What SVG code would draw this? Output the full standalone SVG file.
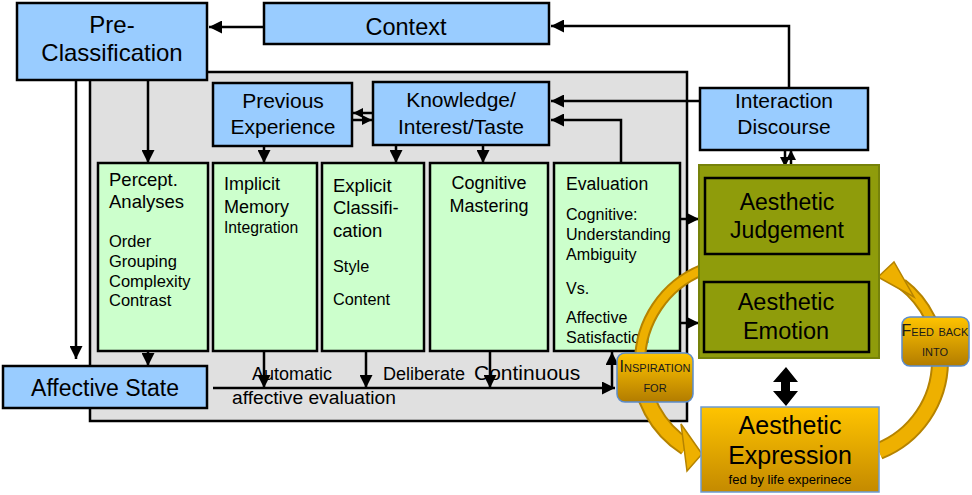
<svg xmlns="http://www.w3.org/2000/svg" width="972" height="495" viewBox="0 0 972 495">
<defs>
<marker id="ah" markerUnits="userSpaceOnUse" markerWidth="13" markerHeight="13" refX="13" refY="6.5" orient="auto"><path d="M0,0 L13,6.5 L0,13 z" fill="#000"/></marker>
<marker id="ahs" markerUnits="userSpaceOnUse" markerWidth="10" markerHeight="10" refX="10" refY="5" orient="auto"><path d="M0,0 L10,5 L0,10 z" fill="#000"/></marker>
<linearGradient id="gold" x1="0" y1="0" x2="0" y2="1"><stop offset="0" stop-color="#ffc400"/><stop offset="1" stop-color="#b27c00"/></linearGradient>
<linearGradient id="gold2" x1="0" y1="0" x2="0" y2="1"><stop offset="0" stop-color="#ffc400"/><stop offset="1" stop-color="#c48a00"/></linearGradient>
</defs>
<style>
.blue{fill:#99ccff;stroke:#000;stroke-width:2.5}
.green{fill:#ccffcc;stroke:#000;stroke-width:2.5}
.t{font-family:"Liberation Sans",Arial,sans-serif;fill:#000}
.c{text-anchor:middle}
.ln{fill:none;stroke:#000;stroke-width:2.5}
.sc{font-family:"Liberation Sans",Arial,sans-serif;font-variant:small-caps;fill:#1a1a1a;text-anchor:middle;font-size:16px}
.rib{fill:none;stroke:#b58300}
.ribi{fill:none;stroke:#eeb000}
</style>
<rect id="panel" x="90" y="72" width="597" height="349" fill="#e0e0e0" stroke="#000" stroke-width="2.5"/>
<g id="connectors">
<line class="ln" x1="264" y1="27" x2="209" y2="27" marker-end="url(#ah)"/>
<polyline class="ln" points="789,88 789,26 551,26" marker-end="url(#ah)"/>
<line class="ln" x1="700" y1="101" x2="551" y2="101" marker-end="url(#ah)"/>
<polyline class="ln" points="621,163 621,120 551,120" marker-end="url(#ah)"/>
<line class="ln" x1="76" y1="80" x2="76" y2="359" marker-end="url(#ah)"/>
<line class="ln" x1="148" y1="80" x2="148" y2="163" marker-end="url(#ah)"/>
<line class="ln" x1="264" y1="146" x2="264" y2="163" marker-end="url(#ah)"/>
<line class="ln" x1="396" y1="145" x2="396" y2="163" marker-end="url(#ah)"/>
<line class="ln" x1="483" y1="145" x2="483" y2="163" marker-end="url(#ah)"/>
<line class="ln" x1="373" y1="113" x2="353" y2="113" marker-end="url(#ahs)"/>
<line class="ln" x1="352" y1="120" x2="372" y2="120" marker-end="url(#ahs)"/>
<line class="ln" x1="148" y1="351" x2="148" y2="366" marker-end="url(#ah)"/>
<line class="ln" x1="213" y1="388" x2="615" y2="388" marker-end="url(#ah)"/>
<line class="ln" x1="264" y1="351" x2="264" y2="388" marker-end="url(#ah)"/>
<line class="ln" x1="366" y1="351" x2="366" y2="388" marker-end="url(#ah)"/>
<line class="ln" x1="490" y1="351" x2="490" y2="388" marker-end="url(#ah)"/>
<line class="ln" x1="612" y1="388" x2="612" y2="352" marker-end="url(#ah)"/>
<line class="ln" x1="680" y1="219" x2="699" y2="219" marker-end="url(#ah)"/>
<line class="ln" x1="680" y1="323" x2="699" y2="323" marker-end="url(#ah)"/>
<line class="ln" x1="785" y1="150" x2="785" y2="167" marker-end="url(#ahs)"/>
<line class="ln" x1="791" y1="167" x2="791" y2="150" marker-end="url(#ahs)"/>
<polygon points="786,367 798,382 790,382 790,391 798,391 786,406 773,391 781,391 781,382 773,382" fill="#000"/>
</g>
<g id="pre-classification"><rect class="blue" x="17" y="3" width="190" height="77"/><text class="t c" x="112" y="33" font-size="24">Pre-</text><text class="t c" x="112" y="61" font-size="24">Classification</text></g>
<g id="context"><rect class="blue" x="264" y="3" width="285" height="41"/><text class="t c" x="406" y="35" font-size="23.5">Context</text></g>
<g id="previous-experience"><rect class="blue" x="213" y="83" width="139" height="63"/><text class="t c" x="283" y="108" font-size="21">Previous</text><text class="t c" x="283" y="134" font-size="21">Experience</text></g>
<g id="knowledge"><rect class="blue" x="373" y="82" width="176" height="63"/><text class="t c" x="461" y="107" font-size="21">Knowledge/</text><text class="t c" x="461" y="134" font-size="21">Interest/Taste</text></g>
<g id="interaction"><rect class="blue" x="700" y="88" width="168" height="62"/><text class="t c" x="784" y="108" font-size="21">Interaction</text><text class="t c" x="784" y="134" font-size="21">Discourse</text></g>
<g id="percept"><rect class="green" x="98" y="163" width="110" height="188"/>
<text class="t" x="109" font-size="18.5"><tspan x="109" y="186">Percept.</tspan><tspan x="109" y="208">Analyses</tspan></text>
<text class="t" font-size="16.5"><tspan x="109" y="247">Order</tspan><tspan x="109" y="267">Grouping</tspan><tspan x="109" y="287">Complexity</tspan><tspan x="109" y="306">Contrast</tspan></text></g>
<g id="implicit"><rect class="green" x="213" y="163" width="104" height="188"/>
<text class="t" font-size="18"><tspan x="224" y="190">Implicit</tspan><tspan x="224" y="213">Memory</tspan></text>
<text class="t" x="224" y="233" font-size="15.7">Integration</text></g>
<g id="explicit"><rect class="green" x="322" y="163" width="102" height="188"/>
<text class="t" font-size="18.5"><tspan x="333" y="192">Explicit</tspan><tspan x="333" y="214">Classifi-</tspan><tspan x="333" y="237">cation</tspan></text>
<text class="t" font-size="16.3"><tspan x="333" y="272">Style</tspan><tspan x="333" y="305">Content</tspan></text></g>
<g id="cognitive"><rect class="green" x="430" y="163" width="118" height="188"/>
<text class="t c" font-size="18"><tspan x="489" y="189">Cognitive</tspan><tspan x="489" y="212">Mastering</tspan></text></g>
<g id="evaluation"><rect class="green" x="554" y="163" width="126" height="188"/>
<text class="t" x="566" y="190" font-size="17.6">Evaluation</text>
<text class="t" font-size="16.1"><tspan x="566" y="220">Cognitive:</tspan><tspan x="566" y="240">Understanding</tspan><tspan x="566" y="260">Ambiguity</tspan><tspan x="566" y="294">Vs.</tspan><tspan x="566" y="323">Affective</tspan><tspan x="566" y="343">Satisfaction</tspan></text></g>
<g id="affective-state"><rect class="blue" x="3" y="366" width="204" height="42"/><text class="t c" x="105" y="396" font-size="23">Affective State</text></g>
<g id="labels">
<text class="t" x="252" y="380" font-size="18">Automatic</text>
<text class="t" x="383" y="380" font-size="18">Deliberate</text>
<text class="t" x="474" y="380" font-size="21">Continuous</text>
<text class="t" x="232" y="404" font-size="19.2">affective evaluation</text>
</g>
<g id="curved-arrows">
<path class="rib" d="M702,270 A100,100 0 0 0 640,362" stroke-width="12"/>
<path class="ribi" d="M702,270 A100,100 0 0 0 640,362" stroke-width="8"/>
<path class="rib" d="M640,362 A100,100 0 0 0 686,447" stroke-width="18"/>
<path class="ribi" d="M640,362 A100,100 0 0 0 686,447" stroke-width="14"/>
<polygon points="702,454 681,424 687,471" fill="#eeb000" stroke="#b58300" stroke-width="1.5"/>
<path class="rib" d="M879,451 A97,97 0 0 0 940,362" stroke-width="18"/>
<path class="ribi" d="M879,451 A97,97 0 0 0 940,362" stroke-width="14"/>
<path class="rib" d="M940,362 A97,97 0 0 0 902,284" stroke-width="12"/>
<path class="ribi" d="M940,362 A97,97 0 0 0 902,284" stroke-width="8"/>
<polygon points="878,277 894,262 914,297" fill="#eeb000" stroke="#b58300" stroke-width="1.5"/>
</g>
<g id="aesthetic-panel"><rect x="699" y="165" width="180" height="193" fill="#8f9c0b" stroke="#76820a" stroke-width="2"/></g>
<g id="aesthetic-judgement"><rect x="705" y="178" width="164" height="76" fill="#8f9c0b" stroke="#000" stroke-width="2.5"/><text class="t c" x="787" y="210" font-size="23">Aesthetic</text><text class="t c" x="787" y="238" font-size="23">Judgement</text></g>
<g id="aesthetic-emotion"><rect x="704" y="282" width="165" height="70" fill="#8f9c0b" stroke="#000" stroke-width="2.5"/><text class="t c" x="786" y="310" font-size="23.5">Aesthetic</text><text class="t c" x="786" y="339" font-size="23.5">Emotion</text></g>
<g id="aesthetic-expression"><rect x="701" y="407" width="178" height="85" fill="url(#gold2)" stroke="#6c9bd2" stroke-width="1.5"/><text class="t c" x="790" y="434" font-size="25">Aesthetic</text><text class="t c" x="790" y="464" font-size="25">Expression</text><text class="t c" x="790" y="484" font-size="13">fed by life experinece</text></g>
<g id="inspiration"><rect x="617" y="353" width="76" height="49" rx="8" fill="url(#gold)" stroke="#5b8ccc" stroke-width="1.5"/><text class="sc" x="655" y="372" font-size="17">Inspiration</text><text class="sc" x="655" y="392">for</text></g>
<g id="feedback"><rect x="902" y="317" width="67" height="49" rx="8" fill="url(#gold)" stroke="#5b8ccc" stroke-width="1.5"/><text class="sc" x="935" y="336" font-size="15.5">Feed back</text><text class="sc" x="935" y="356">into</text></g>
</svg>
